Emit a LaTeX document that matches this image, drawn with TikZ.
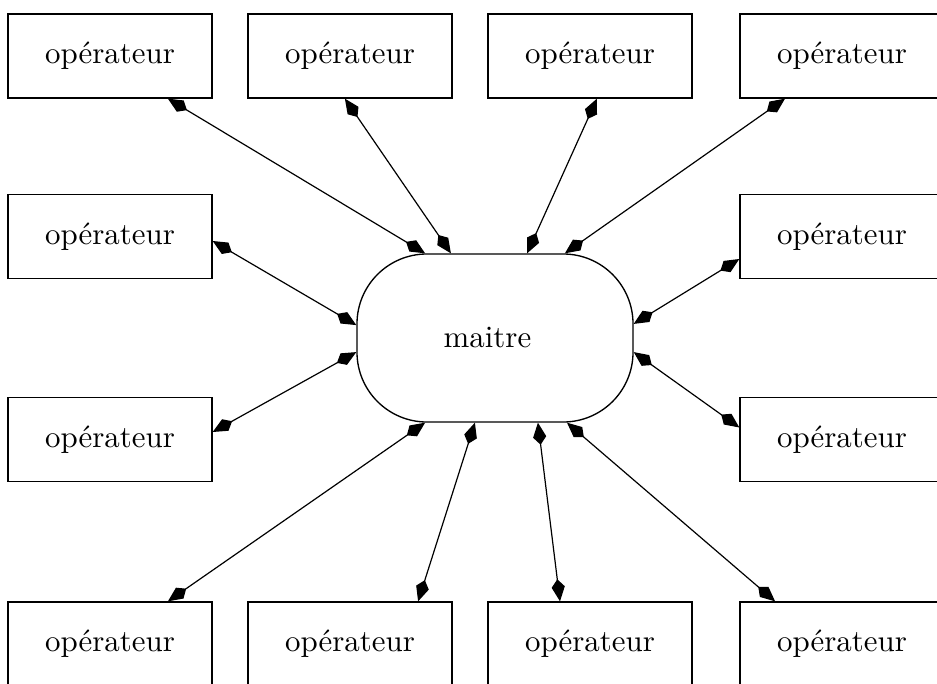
\documentclass[tikz,border=0pt]{standalone}
\usetikzlibrary{arrows.meta,calc}
\begin{document}
\begin{tikzpicture}[x=0.3333pt,y=-0.3333pt,
  tip/.tip={Kite[length=7.4pt,width=4.4pt,inset=2.6pt]},
  opbox/.style={draw,line width=0.45pt,minimum width=68pt,minimum height=28pt,inner sep=0pt,font=\fontsize{10.3}{12}\selectfont},
  masterbox/.style={draw,line width=0.45pt,rounded corners=23.3pt,minimum width=92pt,minimum height=56pt,inner sep=0pt,font=\fontsize{10.3}{12}\selectfont},
  link/.style={line width=0.4pt,tip-tip}]
\useasboundingbox (0,0) rectangle (937,683);
% central node
\node[masterbox] (m) at (495,338) {maitre\hspace*{5pt}};
% top row
\node[opbox] (t1) at (110,56) {opérateur};
\node[opbox] (t2) at (350,56) {opérateur};
\node[opbox] (t3) at (590,56) {opérateur};
\node[opbox] (t4) at (842,56) {opérateur};
% side nodes
\node[opbox] (l1) at (110,236.5) {opérateur};
\node[opbox] (r1) at (842,236.5) {opérateur};
\node[opbox] (l2) at (110,439.5) {opérateur};
\node[opbox] (r2) at (842,439.5) {opérateur};
% bottom row
\node[opbox] (b1) at (110,644) {opérateur};
\node[opbox] (b2) at (350,644) {opérateur};
\node[opbox] (b3) at (590,644) {opérateur};
\node[opbox] (b4) at (842,644) {opérateur};
% connectors to the top row
\draw[link] ([xshift=19.3pt]t1.south) -- ([xshift=-23.3pt]m.north);
\draw[link] ([xshift=-1.7pt]t2.south) -- ([xshift=-14.7pt]m.north);
\draw[link] ([xshift=2.3pt]t3.south) -- ([xshift=10.7pt]m.north);
\draw[link] ([xshift=-19pt]t4.south) -- ([xshift=23.3pt]m.north);
% connectors to the sides
\draw[link] ([yshift=-1.5pt]l1.east) -- ([yshift=4.3pt]m.west);
\draw[link] ([yshift=-7.5pt]r1.west) -- ([yshift=4.7pt]m.east);
\draw[link] ([yshift=2.5pt]l2.east) -- ([yshift=-4.7pt]m.west);
\draw[link] ([yshift=4pt]r2.west) -- ([yshift=-4.7pt]m.east);
% connectors to the bottom row
\draw[link] ([xshift=19.3pt]b1.north) -- ([xshift=-23.3pt]m.south);
\draw[link] ([xshift=22.7pt]b2.north) -- ([xshift=-6.7pt]m.south);
\draw[link] ([xshift=-10pt]b3.north) -- ([xshift=14.3pt]m.south);
\draw[link] ([xshift=-22.3pt]b4.north) -- ([xshift=24pt]m.south);
\end{tikzpicture}
\end{document}
